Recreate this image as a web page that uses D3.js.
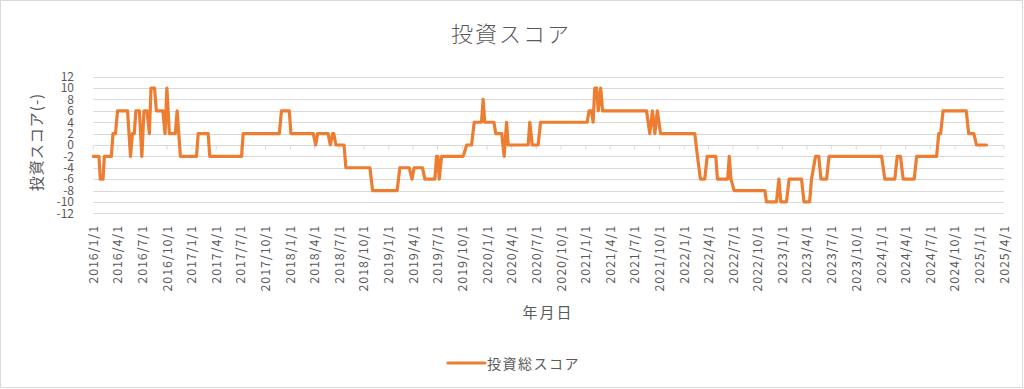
<!DOCTYPE html>
<html>
<head>
<meta charset="utf-8">
<script src="https://cdn.jsdelivr.net/npm/d3@7"></script>
<style>
  body { margin: 0; background: #fff; }
  svg text { font-family: "Noto Sans CJK JP", "Noto Sans", sans-serif; fill: #595959; }
</style>
</head>
<body>
<div id="chart"></div>
<script>
// 投資総スコア (date, score)
var dates = [
  "2016-01-01","2016-01-22","2016-01-27","2016-02-06","2016-02-11","2016-03-08","2016-03-14","2016-03-23",
  "2016-03-31","2016-05-07","2016-05-18","2016-05-25","2016-06-01","2016-06-07","2016-06-20","2016-06-29",
  "2016-07-07","2016-07-18","2016-07-27","2016-08-02","2016-08-15","2016-08-22","2016-09-15","2016-09-23",
  "2016-09-30","2016-10-09","2016-10-31","2016-11-07","2016-11-19","2017-01-18","2017-01-24","2017-03-02",
  "2017-03-08","2017-07-04","2017-07-10","2017-11-21","2017-11-29","2017-12-28","2018-01-03","2018-03-27",
  "2018-04-05","2018-04-12","2018-05-21","2018-05-29","2018-06-07","2018-06-11","2018-06-19","2018-07-19",
  "2018-07-26","2018-10-23","2018-11-02","2019-02-01","2019-02-11","2019-03-18","2019-03-28","2019-04-05",
  "2019-05-06","2019-05-15","2019-06-21","2019-06-27","2019-07-02","2019-07-07","2019-07-16","2019-10-04",
  "2019-10-17","2019-11-04","2019-11-14","2019-12-11","2019-12-17","2019-12-23","2020-01-26","2020-02-02",
  "2020-02-24","2020-03-04","2020-03-13","2020-03-19","2020-06-01","2020-06-07","2020-06-16","2020-07-08",
  "2020-07-17","2021-01-06","2021-01-13","2021-01-22","2021-01-28","2021-02-03","2021-02-10","2021-02-16",
  "2021-02-25","2021-03-04","2021-08-14","2021-08-26","2021-09-05","2021-09-14","2021-09-23","2021-10-05",
  "2022-02-09","2022-02-19","2022-03-02","2022-03-18","2022-03-27","2022-04-28","2022-05-04","2022-06-11",
  "2022-06-17","2022-06-23","2022-07-05","2022-10-27","2022-11-02","2022-12-09","2022-12-18","2022-12-25",
  "2023-01-15","2023-01-25","2023-03-12","2023-03-21","2023-04-11","2023-04-18","2023-05-03","2023-05-15",
  "2023-05-23","2023-06-13","2023-06-22","2024-01-03","2024-01-15","2024-02-21","2024-03-01","2024-03-13",
  "2024-03-23","2024-05-03","2024-05-12","2024-07-25","2024-08-02","2024-08-09","2024-08-18","2024-11-12",
  "2024-11-21","2024-12-10","2024-12-20","2025-01-26"
];
var scores = [
  -2,-2,-6,-6,-2,-2,2,2,
  6,6,-2,2,2,6,6,-2,
  6,6,2,10,10,6,6,2,
  10,2,2,6,-2,-2,2,2,
  -2,-2,2,2,6,6,2,2,
  0,2,2,0,2,2,0,0,
  -4,-4,-8,-8,-4,-4,-6,-4,
  -4,-6,-6,-2,-2,-6,-2,-2,
  0,0,4,4,8,4,4,2,
  2,-2,4,0,0,4,0,0,
  4,4,6,6,4,10,10,6,
  10,6,6,2,6,2,6,2,
  2,-2,-6,-6,-2,-2,-6,-6,
  -2,-6,-8,-8,-10,-10,-6,-10,
  -10,-6,-6,-10,-10,-6,-2,-2,
  -6,-6,-2,-2,-6,-6,-2,-2,
  -6,-6,-2,-2,2,2,6,6,
  2,2,0,0
];
var yTicks = [-12,-10,-8,-6,-4,-2,0,2,4,6,8,10,12];
var xStart = "2016-01-01", xEnd = "2025-04-01";
var seriesName = "投資総スコア";

var W = 1024, H = 389;
var parse = d3.timeParse("%Y-%m-%d");
var data = dates.map(function (d, i) { return { date: parse(d), score: scores[i] }; });

var svg = d3.select("#chart").append("svg").attr("width", W).attr("height", H);

// chart border
svg.append("rect").attr("x", 0.5).attr("y", 0.5).attr("width", W - 2).attr("height", H - 2)
  .attr("fill", "#fff").attr("stroke", "#d9d9d9");

var x = d3.scaleTime().domain([parse(xStart), parse(xEnd)]).range([93.3, 1004]);
var y = d3.scaleLinear().domain([-12, 12]).range([213.3, 76.7]);

// gridlines
svg.append("g").selectAll("line").data(yTicks).enter().append("line")
  .attr("x1", x.range()[0]).attr("x2", x.range()[1])
  .attr("y1", function (d) { return Math.round(y(d)) + 0.5; })
  .attr("y2", function (d) { return Math.round(y(d)) + 0.5; })
  .attr("stroke", "#d9d9d9").attr("stroke-width", 1);

// y labels
svg.append("g").selectAll("text").data(yTicks).enter().append("text")
  .attr("x", 74).attr("y", function (d) { return y(d); }).attr("dy", "0.36em")
  .attr("text-anchor", "end").style("font-size", "12px")
  .text(function (d) { return d; });

// x ticks on the zero line
var xTicks = d3.timeMonth.every(3).range(parse(xStart), d3.timeDay.offset(parse(xEnd), 1));
var y0 = Math.round(y(0)) + 0.5;
svg.append("g").selectAll("line").data(xTicks).enter().append("line")
  .attr("x1", function (d) { return x(d); }).attr("x2", function (d) { return x(d); })
  .attr("y1", y0).attr("y2", y0 + 4)
  .attr("stroke", "#d9d9d9");

var fmt = function (d) { return d.getFullYear() + "/" + (d.getMonth() + 1) + "/" + d.getDate(); };
svg.append("g").selectAll("text").data(xTicks).enter().append("text")
  .attr("transform", function (d) { return "translate(" + x(d) + ",225) rotate(-90)"; })
  .attr("dy", "0.36em").attr("text-anchor", "end")
  .style("font-size", "12.5px").style("letter-spacing", "0.9px")
  .text(fmt);

// series line
var line = d3.line().x(function (d) { return x(d.date); }).y(function (d) { return y(d.score); });
svg.append("path").datum(data).attr("d", line)
  .attr("fill", "none").attr("stroke", "#ED7D31").attr("stroke-width", 3.2)
  .attr("stroke-linejoin", "round").attr("stroke-linecap", "round");

// title
svg.append("text").attr("x", 511).attr("y", 42).attr("text-anchor", "middle")
  .style("font-size", "22px").style("letter-spacing", "2px").style("font-weight", 300)
  .text("投資スコア");

// axis titles
svg.append("text").attr("transform", "translate(42,142) rotate(-90)").attr("text-anchor", "middle")
  .style("font-size", "15px").style("letter-spacing", "1px")
  .text("投資スコア(-)");
svg.append("text").attr("x", 548).attr("y", 318).attr("text-anchor", "middle")
  .style("font-size", "15px").style("letter-spacing", "2px")
  .text("年月日");

// legend
svg.append("line").attr("x1", 448).attr("x2", 485).attr("y1", 363).attr("y2", 363)
  .attr("stroke", "#ED7D31").attr("stroke-width", 3.2).attr("stroke-linecap", "round");
svg.append("text").attr("x", 487).attr("y", 368.5)
  .style("font-size", "14px").style("letter-spacing", "1.5px")
  .text(seriesName);
</script>
</body>
</html>
